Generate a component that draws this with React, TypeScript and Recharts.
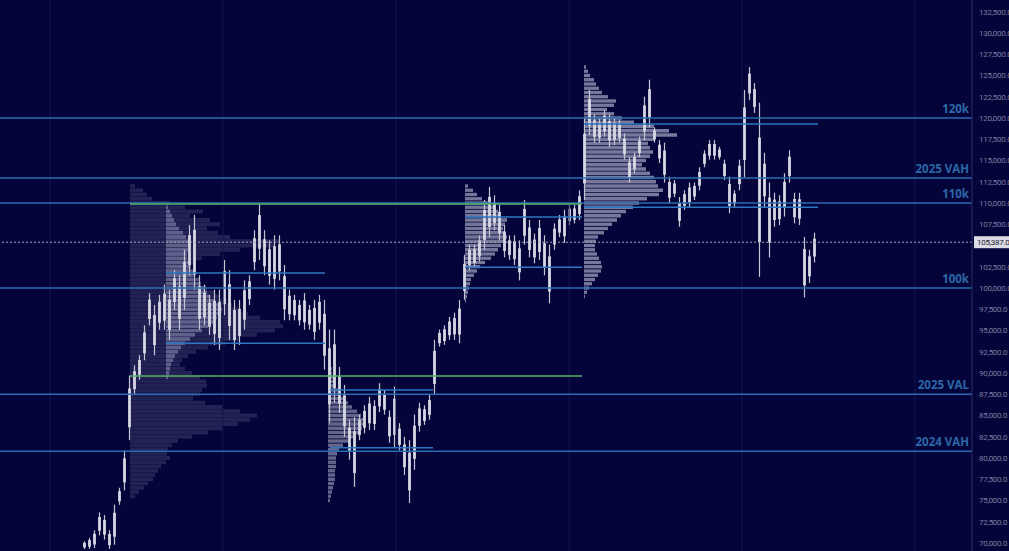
import React from "react";
import { ComposedChart, Bar, XAxis, YAxis, ReferenceLine, ReferenceArea } from "recharts";

// time axis is in candle slots, first candle sits at slot 17
const FIRST_SLOT = 17;

// price path in thousands
const candleHigh = [
  70.2, 70.6, 71.5, 73.6, 73.3, 71.5, 74.5, 76.5, 80.9, 89.7, 90.9, 92.1, 95.6, 99.4, 98.0, 99.2, 100.4, 99.8, 102.1, 101.5,
  104.5, 107.4, 108.6, 101.5, 100.4, 99.2, 99.8, 99.8, 103.3, 102.1, 98.6, 98.6, 100.9, 101.5, 106.8, 109.9, 106.8, 105.6, 106.2, 106.2,
  102.7, 99.8, 99.2, 98.6, 99.4, 98.0, 98.6, 99.2, 98.6, 95.1, 95.1, 90.7, 88.6, 84.5, 84.8, 85.1, 86.2, 87.2, 86.8, 88.8,
  88.0, 85.6, 88.4, 84.1, 82.5, 82.1, 85.1, 86.5, 86.2, 87.4, 93.9, 95.1, 95.6, 96.6, 97.1, 98.6, 103.9, 105.1, 105.1, 106.2,
  110.35, 111.9, 110.9, 109.8, 107.4, 106.2, 106.2, 105.6, 110.35, 108.0, 106.4, 108.0, 106.2, 105.1, 107.6, 108.6, 109.2, 109.8, 109.8, 111.5,
  120.1, 123.3, 120.4, 120.0, 120.9, 120.4, 120.0, 119.8, 118.2, 115.4, 115.9, 117.8, 122.5, 124.5, 118.9, 117.4, 117.1, 113.1, 112.7, 110.7,
  111.5, 112.4, 112.4, 114.2, 116.2, 117.4, 117.4, 116.6, 115.1, 113.1, 111.5, 115.1, 123.3, 126.0, 124.1, 121.8, 115.9, 112.4, 111.2, 110.9,
  113.5, 116.2, 111.2, 111.2, 106.0, 104.5, 106.5,
];
const candleLow = [
  69.3, 69.3, 69.4, 70.9, 70.4, 69.3, 69.8, 74.5, 76.2, 82.1, 87.4, 89.2, 91.5, 95.6, 92.1, 95.1, 95.1, 93.9, 97.4, 95.1,
  97.4, 101.5, 99.8, 95.1, 95.6, 94.5, 93.3, 92.7, 96.8, 93.9, 92.7, 93.3, 95.1, 98.0, 102.1, 103.3, 101.5, 100.4, 99.8, 100.9,
  96.2, 96.2, 96.2, 95.6, 95.1, 95.1, 93.9, 95.1, 90.4, 84.1, 86.5, 85.3, 82.5, 79.8, 76.6, 82.1, 82.9, 83.3, 83.3, 85.4,
  85.1, 81.8, 81.3, 80.9, 78.0, 74.7, 78.6, 83.1, 83.9, 84.5, 87.4, 93.1, 93.3, 93.9, 93.9, 93.5, 98.6, 102.1, 102.4, 103.1,
  104.5, 106.0, 106.8, 105.6, 103.6, 103.3, 102.7, 100.9, 105.1, 103.6, 102.9, 103.3, 101.5, 98.2, 104.5, 106.0, 105.3, 107.4, 107.6, 108.0,
  110.35, 118.0, 117.1, 117.1, 117.8, 116.6, 116.8, 117.1, 115.1, 112.4, 113.5, 115.4, 117.4, 118.9, 117.1, 114.7, 112.4, 110.0, 110.7, 107.2,
  109.2, 109.5, 110.35, 111.5, 114.2, 115.1, 115.1, 115.1, 112.7, 108.8, 109.5, 111.5, 113.0, 122.1, 120.6, 101.3, 109.5, 103.6, 107.2, 107.4,
  108.4, 112.4, 107.6, 107.4, 98.9, 100.6, 103.0,
];

// 105,000 is hidden behind the last-price tag
const priceTicks = [
  70000, 72500, 75000, 77500, 80000, 82500, 85000, 87500, 90000, 92500, 95000, 97500, 100000,
  102500, 107500, 110000, 112500, 115000, 117500, 120000, 122500, 125000, 127500, 130000, 132500,
];
const lastPrice = 105387;

// key levels across the whole chart
const levelPrices = [120000, 112940, 110000, 100000, 87500, 80800];
const levelLabels = ["120k", "2025 VAH", "110k", "100k", "2025 VAL", "2024 VAH"];

// 2024 profile value area edges
const greenPrices = [109880, 89650];
const greenFrom = 26;
const greenTo = 116.4;

// value area edges of the shorter profiles
const segPrices = [101750, 93500, 88000, 81200, 108350, 102450, 119300, 109500];
const segFrom = [33.2, 33.2, 66, 66, 93, 93, 116.8, 116.8];
const segTo = [65, 65, 86.6, 86.6, 116.4, 116.4, 163.6, 163.6];

const gridSlots = [10, 44.6, 79.2, 113.8, 148.4, 183];

// volume profiles: top bin price (k), start slot, volume per 500$ bin
const profileTops = [112.0, 109.5, 91.5, 112.0, 126.0];
const profileStarts = [26, 33.2, 65.6, 93, 116.8];
const profileVolumes = [
  [5, 13, 17, 22, 40, 55, 73, 60, 80, 90, 77, 88, 100, 150, 145, 110, 90, 72, 65, 60, 58, 62, 63, 70, 77, 85, 90, 97, 102, 108,
    118, 130, 150, 153, 145, 127, 110, 95, 78, 66, 58, 52, 50, 55, 62, 70, 76, 77, 72, 70, 63, 75, 92, 110, 127, 120, 108, 92, 78, 62,
    48, 42, 38, 37, 40, 36, 31, 28, 25, 23, 18, 14, 9, 5],
  [2, 4, 6, 8, 10, 13, 17, 20, 24, 24, 22, 21, 21, 23, 25, 27, 29, 33, 35, 38, 41, 44, 48, 52, 56, 55, 51, 47, 42, 36,
    29, 24, 19, 15, 12, 9, 7, 5, 4, 3, 2],
  [3, 3, 4, 4, 5, 6, 8, 10, 13, 16, 20, 24, 29, 33, 35, 36, 34, 30, 25, 20, 15, 11, 9, 8, 8, 8, 7, 7, 7, 6, 5, 4, 3, 2],
  [3, 8, 12, 17, 25, 29, 33, 36, 42, 40, 38, 40, 42, 40, 36, 33, 30, 26, 20, 15, 12, 9, 6, 5, 4, 3, 2, 1],
  [2, 4, 6, 10, 12, 15, 18, 24, 32, 30, 23, 30, 38, 50, 70, 85, 93, 70, 64, 66, 69, 66, 62, 58, 62, 66, 70, 72, 74, 79,
    75, 63, 55, 49, 42, 37, 33, 28, 24, 20, 14, 12, 11, 11, 13, 15, 17, 18, 17, 14, 11, 8, 5, 3, 1],
];
const profileFill = ["#9a9cc4", "#b8bad6", "#a4a6c2", "#a4a6c2", "#a4a6c2"];
const profileOpacity = [0.2, 0.42, 0.6, 0.7, 0.72];
const profileHalfBin = [225, 220, 200, 195, 195];

const BG = "#04043a";
const BLUE = "#2a6bb0";

const candles = candleHigh.map((h, i) => ({
  t: FIRST_SLOT + i,
  range: [candleLow[i] * 1000, h * 1000],
}));

function Candle(props: any) {
  const { x, y, width, height } = props;
  if (height == null || isNaN(height)) return null;
  const cx = x + width / 2;
  return (
    <g>
      <rect x={cx - 0.6} y={y} width={1.2} height={Math.max(height, 1)} fill="#c4c5d2" />
      <rect x={cx - 1.4} y={y + height * 0.2} width={2.8} height={Math.max(height * 0.6, 1)} fill="#d6d7e2" />
    </g>
  );
}

const levelTag = (text: string) => (props: any) => {
  const vb = props.viewBox;
  return (
    <text
      x={vb.x + vb.width - 3}
      y={vb.y - 5}
      textAnchor="end"
      fill="#2c68a6"
      fontSize={11.5}
      fontWeight={700}
      fontFamily="Open Sans"
    >
      {text}
    </text>
  );
};

const priceTag = (props: any) => {
  const vb = props.viewBox;
  const x = vb.x + vb.width + 2;
  return (
    <g>
      <rect x={x} y={vb.y - 6} width={40} height={12} fill="#dcdce4" />
      <text x={x + 3} y={vb.y + 3} fill="#202030" fontSize={8} letterSpacing={-0.3} fontFamily="Roboto">
        {lastPrice.toLocaleString("en-US", { minimumFractionDigits: 1 })}
      </text>
    </g>
  );
};

const fmt = (v: number) => v.toLocaleString("en-US", { minimumFractionDigits: 1, maximumFractionDigits: 1 });

export default function App() {
  return (
    <div style={{ position: "absolute", left: 0, top: 0, width: 1009, height: 551, background: BG, overflow: "hidden" }}>
      <ComposedChart width={1009} height={551} data={candles} margin={{ top: 0, right: 0, bottom: 0, left: 0 }}>
        <XAxis type="number" dataKey="t" domain={[0, 194.4]} allowDataOverflow hide />
        <YAxis
          orientation="right"
          type="number"
          width={37}
          domain={[69059, 133882]}
          allowDataOverflow
          ticks={priceTicks}
          interval={0}
          tickFormatter={fmt}
          tickSize={0}
          tickMargin={7}
          axisLine={{ stroke: "#2a2c5c" }}
          tickLine={false}
          tick={{ fill: "#7c7e9e", fontSize: 8, fontFamily: "Roboto", textAnchor: "start", letterSpacing: -0.3 }}
        />

        {gridSlots.map((t) => (
          <ReferenceLine key={"g" + t} x={t} stroke="#121448" strokeWidth={1} />
        ))}

        {profileVolumes.map((vols, p) =>
          vols.map((v, i) => {
            const price = (profileTops[p] - i * 0.5) * 1000;
            return (
              <ReferenceArea
                key={`p${p}-${i}`}
                x1={profileStarts[p]}
                x2={profileStarts[p] + v / 5}
                y1={price - profileHalfBin[p]}
                y2={price + profileHalfBin[p]}
                fill={profileFill[p]}
                fillOpacity={profileOpacity[p]}
                stroke="none"
                zIndex={50}
              />
            );
          })
        )}

        <Bar dataKey="range" barSize={4} shape={Candle} isAnimationActive={false} />

        {levelPrices.map((p, i) => (
          <ReferenceLine key={"l" + p} y={p} stroke={BLUE} strokeWidth={1.5} label={levelTag(levelLabels[i])} />
        ))}
        {segPrices.map((p, i) => (
          <ReferenceLine
            key={"s" + p}
            segment={[{ x: segFrom[i], y: p }, { x: segTo[i], y: p }]}
            stroke="#2f76c2"
            strokeWidth={1.5}
          />
        ))}
        {greenPrices.map((p) => (
          <ReferenceLine
            key={"gr" + p}
            segment={[{ x: greenFrom, y: p }, { x: greenTo, y: p }]}
            stroke="#55b36a"
            strokeWidth={1.5}
          />
        ))}
        <ReferenceLine y={lastPrice} stroke="#a8a8bc" strokeDasharray="2 2" strokeWidth={1} label={priceTag} />
      </ComposedChart>
    </div>
  );
}
